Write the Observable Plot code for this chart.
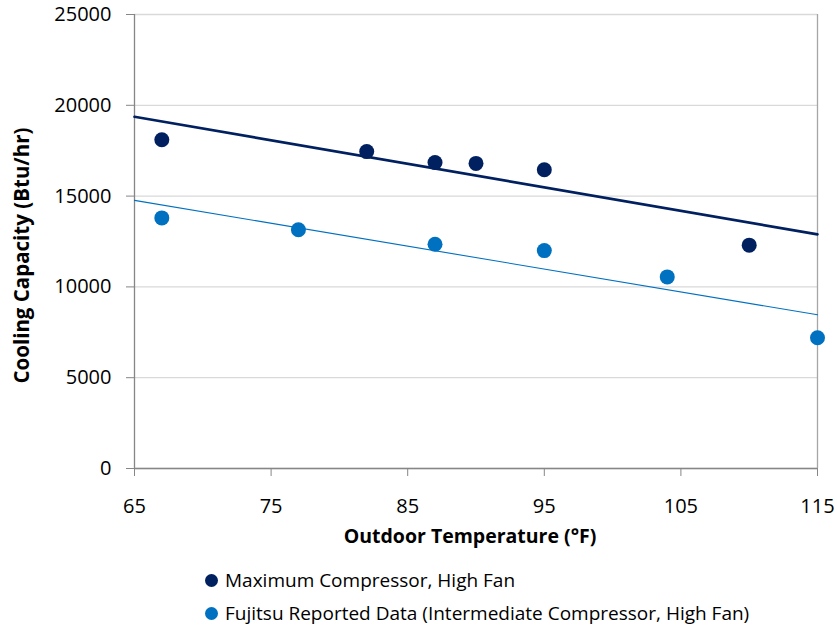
<!DOCTYPE html>
<html><head><meta charset="utf-8">
<script src="https://cdn.jsdelivr.net/npm/d3@7"></script>
<script src="https://cdn.jsdelivr.net/npm/@observablehq/plot@0.6"></script>
<style>
body{margin:0;background:#fff;font-family:"Open Sans",sans-serif;}
#chart svg{display:block;}
#legend{position:relative;height:70px;width:837px;}
.item{position:absolute;left:205px;display:flex;align-items:center;font-size:19px;color:#000;white-space:nowrap;line-height:24px;}
.sw{width:13px;height:13px;border-radius:50%;margin-right:7px;flex:none;}
</style></head><body>
<div id="chart"></div>
<div id="legend"></div>
<script>
// Series data
const maxTemps = [67, 82, 87, 90, 95, 110];
const maxCap   = [18100, 17450, 16850, 16800, 16450, 12300];
const fujTemps = [67, 77, 87, 95, 104, 115];
const fujCap   = [13800, 13150, 12350, 12000, 10550, 7200];
const xTicks = [65, 75, 85, 95, 105, 115];
const yTicks = [0, 5000, 10000, 15000, 20000, 25000];
const seriesNames = ["Maximum Compressor, High Fan", "Fujitsu Reported Data (Intermediate Compressor, High Fan)"];
const seriesColors = ["#002060", "#0070C0"];
const xTitle = "Outdoor Temperature (°F)";
const yTitle = "Cooling Capacity (Btu/hr)";

const series = [
  {name: seriesNames[0], color: seriesColors[0], xs: maxTemps, ys: maxCap, width: 2.6},
  {name: seriesNames[1], color: seriesColors[1], xs: fujTemps, ys: fujCap, width: 1.1}
];
const xDomain = d3.extent(xTicks);
const yDomain = d3.extent(yTicks);

// Linear (least-squares) trend line for each series, drawn across the x domain
function fit(xs, ys) {
  const mx = d3.mean(xs), my = d3.mean(ys);
  let sxy = 0, sxx = 0;
  xs.forEach((x, i) => { sxy += (x - mx) * (ys[i] - my); sxx += (x - mx) ** 2; });
  const slope = sxy / sxx;
  return x => my + slope * (x - mx);
}

const points = series.flatMap(s => s.xs.map((x, i) => ({x, y: s.ys[i], name: s.name, color: s.color})));
const trends = series.map(s => {
  const f = fit(s.xs, s.ys);
  return {color: s.color, width: s.width, pts: xDomain.map(x => ({x, y: f(x)}))};
});

const font = '"Open Sans", sans-serif';
const chart = Plot.plot({
  width: 837,
  height: 560,
  marginLeft: 134,
  marginRight: 20,
  marginTop: 14,
  marginBottom: 92,
  style: {fontFamily: font, fontSize: "20px", color: "#000", background: "#fff"},
  x: {domain: xDomain, axis: null},
  y: {domain: yDomain, axis: null},
  marks: [
    Plot.gridY(yTicks, {stroke: "#d9d9d9", strokeOpacity: 1, strokeWidth: 1.3}),
    Plot.ruleX([xDomain[1]], {stroke: "#a6a6a6", strokeWidth: 1.3}),
    Plot.ruleX([xDomain[0]], {stroke: "#868686", strokeWidth: 1.3}),
    Plot.ruleY([yDomain[0]], {stroke: "#868686", strokeWidth: 1.3}),
    Plot.axisY({ticks: yTicks, tickSize: 8, tickPadding: 15, stroke: "#868686", fill: "#000", fontSize: 20, label: null, tickFormat: d => String(d)}),
    Plot.axisX({ticks: xTicks, tickSize: 8, tickPadding: 22, stroke: "#868686", fill: "#000", fontSize: 20, label: null, tickFormat: d => String(d)}),
    ...trends.map(t => Plot.line(t.pts, {x: "x", y: "y", stroke: t.color, strokeWidth: t.width})),
    Plot.dot(points, {x: "x", y: "y", r: 7.5, fill: "color", stroke: "none"}),
    Plot.text([xTitle], {frameAnchor: "bottom", text: d => d, dy: 74, dx: -6, fontWeight: "bold", fontSize: 19.5, fill: "#000"}),
    Plot.text([yTitle], {frameAnchor: "left", textAnchor: "middle", text: d => d, rotate: -90, dx: -112, dy: 14, fontWeight: "bold", fontSize: 20.5, fill: "#000"})
  ]
});
document.getElementById("chart").appendChild(chart);

const legend = document.getElementById("legend");
series.forEach((s, i) => {
  const item = document.createElement("div");
  item.className = "item";
  item.style.top = (8 + i * 33) + "px";
  const sw = document.createElement("span");
  sw.className = "sw";
  sw.style.background = s.color;
  const label = document.createElement("span");
  label.textContent = s.name;
  item.appendChild(sw);
  item.appendChild(label);
  legend.appendChild(item);
});
</script>
</body></html>
